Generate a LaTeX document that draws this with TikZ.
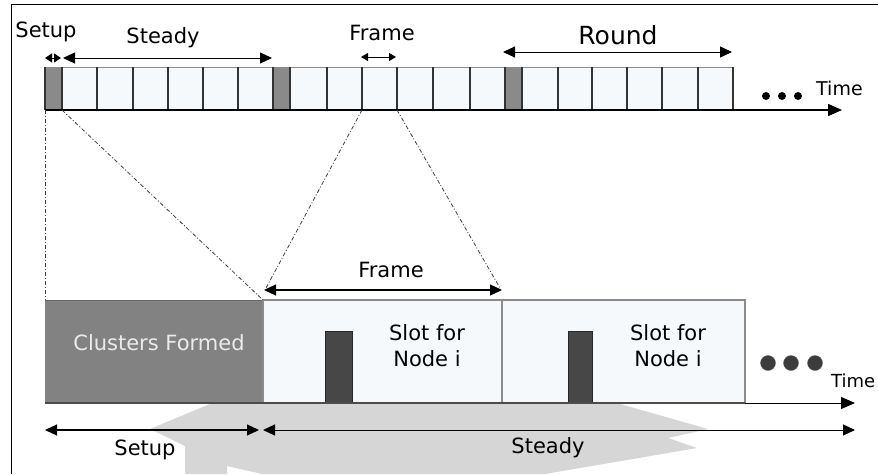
\documentclass[tikz,border=0pt]{standalone}
\usepackage{fontspec}
\setmainfont{DejaVu Sans}
\usetikzlibrary{arrows.meta}
\definecolor{cellfill}{HTML}{F6F9FC}
\definecolor{graycell}{HTML}{8A8A8A}
\definecolor{formed}{HTML}{828282}
\definecolor{watermark}{HTML}{D6D6D6}
\definecolor{barfill}{HTML}{474747}
\definecolor{dotfill}{HTML}{3C3C3C}
\begin{document}
\begin{tikzpicture}[x=1pt,y=-1pt,
  lbl/.style={inner sep=0pt, anchor=base, font=\fontsize{21}{25}\selectfont},
  dim/.style={{Triangle[length=12pt,width=11pt]}-{Triangle[length=12pt,width=11pt]}, line width=1.2pt},
  smalldim/.style={{Triangle[length=7pt,width=8pt]}-{Triangle[length=7pt,width=8pt]}, line width=1pt},
  zoomline/.style={dash pattern=on 4pt off 2pt on 1pt off 2pt, line width=0.8pt, black!75},
  axis/.style={-{Triangle[length=14pt,width=12pt]}, line width=1.5pt},
  framebox/.style={draw=black!45, line width=1.2pt, fill=cellfill},
  slotbar/.style={draw=black!85, line width=0.8pt, fill=barfill},
  bigdot/.style={circle, fill=dotfill, draw=black!60, minimum size=15pt, inner sep=0pt},
  smalldot/.style={circle, fill=black, minimum size=8pt, inner sep=0pt}]
\useasboundingbox (0,0) rectangle (878,474);
\fill[white] (0,0) rectangle (878,474);

% background watermark arrow
\fill[watermark] (210,404) -- (620,404) -- (708,429) -- (668,438) -- (697,448)
  -- (545,474) -- (262,474) -- (227,466) -- (227,474) -- (185,474) -- (185,446)
  -- (150,429) -- cycle;

% frame border of the figure
\draw[line width=1.4pt] (11.5,474) -- (11.5,4.5) -- (878,4.5);

% ---------- top timeline ----------
\fill[cellfill] (45,67) rectangle (733,110);
\foreach \a/\b in {45/62,273/290,505/522}
  \fill[graycell] (\a,67) rectangle (\b,110);
\draw[black!45, line width=1pt] (45,67) -- (733,67);
\foreach \x in {45,62,97,133,168,203,238,273,290,327,362,397,433,470,505,522,558,592,627,662,698,733}
  \draw[black!80, line width=1.1pt] (\x,67) -- (\x,110);

\coordinate (tA) at (45,110);
\coordinate (tB) at (842,110);
\draw[axis] (tA) -- (tB);

\node[smalldot] (d1) at (766,96) {};
\node[smalldot] (d2) at (782,96) {};
\node[smalldot] (d3) at (798,96) {};
\node[lbl, anchor=base west, font=\fontsize{19}{22}\selectfont] (time1) at (816,95) {Time};

% top labels and dimension arrows
\node[lbl] (lsetup) at (46,37) {Setup};
\node[lbl] (lsteady) at (163,43) {Steady};
\node[lbl] (lframe) at (382,40) {Frame};
\node[lbl, font=\fontsize{25}{30}\selectfont] (lround) at (618,44) {Round};

\coordinate (su1) at (45,58);  \coordinate (su2) at (61,58);
\coordinate (st1) at (63,58);  \coordinate (st2) at (272,58);
\coordinate (fr1) at (361,57); \coordinate (fr2) at (396,57);
\coordinate (ro1) at (503,52); \coordinate (ro2) at (732,52);
\draw[{Triangle[length=7pt,width=9pt]}-{Triangle[length=7pt,width=9pt]}, line width=0.8pt] (su1) -- (su2);
\draw[dim, line width=1pt] (st1) -- (st2);
\draw[smalldim] (fr1) -- (fr2);
\draw[dim, line width=1pt] (ro1) -- (ro2);

% ---------- bottom detail ----------
\fill[formed] (45,300) rectangle (263,403);
\draw[black!60, line width=1pt] (45,300) -- (263,300);
\node[lbl, text=white!92!black] (formedtxt) at (159,350) {Clusters Formed};

\draw[framebox] (263,300) rectangle (502,403);
\draw[framebox] (502,300) rectangle (745,403);

\node[lbl] (slot1a) at (427,340) {Slot for};
\node[lbl] (slot1b) at (427,366) {Node i};
\node[lbl] (slot2a) at (668,340) {Slot for};
\node[lbl] (slot2b) at (668,366) {Node i};

\draw[slotbar] (325,331) rectangle (352,403);
\draw[slotbar] (568,331) rectangle (592,403);

\node[bigdot] (b1) at (768,363) {};
\node[bigdot] (b2) at (791,363) {};
\node[bigdot] (b3) at (815,363) {};
\node[lbl, anchor=base west, font=\fontsize{18}{22}\selectfont] (time2) at (831,387) {Time};

\coordinate (bA) at (45,403);
\coordinate (bB) at (855,403);
\draw[black!70, line width=1.3pt] (bA) -- (745,403);
\draw[axis, line width=1pt] (745,403) -- (bB);

% frame dimension
\coordinate (bf1) at (264,290);
\coordinate (bf2) at (502,290);
\node[lbl] (lframe2) at (391,277) {Frame};
\draw[dim] (bf1) -- (bf2);

% setup / steady dimensions
\coordinate (bs1) at (45,430);
\coordinate (bs2) at (259,430);
\coordinate (bt1) at (263,430);
\coordinate (bt2) at (855,430);
\draw[dim] (bs1) -- (bs2);
\draw[dim, line width=1pt] (bt1) -- (bt2);
\node[lbl] (lsetup2) at (145,455) {Setup};
\node[lbl] (lsteady2) at (548,453) {Steady};

% zoom lines
\coordinate (z1) at (45,110);  \coordinate (z1b) at (45,300);
\coordinate (z2) at (62,110);  \coordinate (z2b) at (263,300);
\coordinate (z3) at (362,110); \coordinate (z3b) at (266,288);
\coordinate (z4) at (397,110); \coordinate (z4b) at (500,288);
\draw[zoomline] (z1) -- (z1b);
\draw[zoomline] (z2) -- (z2b);
\draw[zoomline] (z3) -- (z3b);
\draw[zoomline] (z4) -- (z4b);
\end{tikzpicture}
\end{document}
